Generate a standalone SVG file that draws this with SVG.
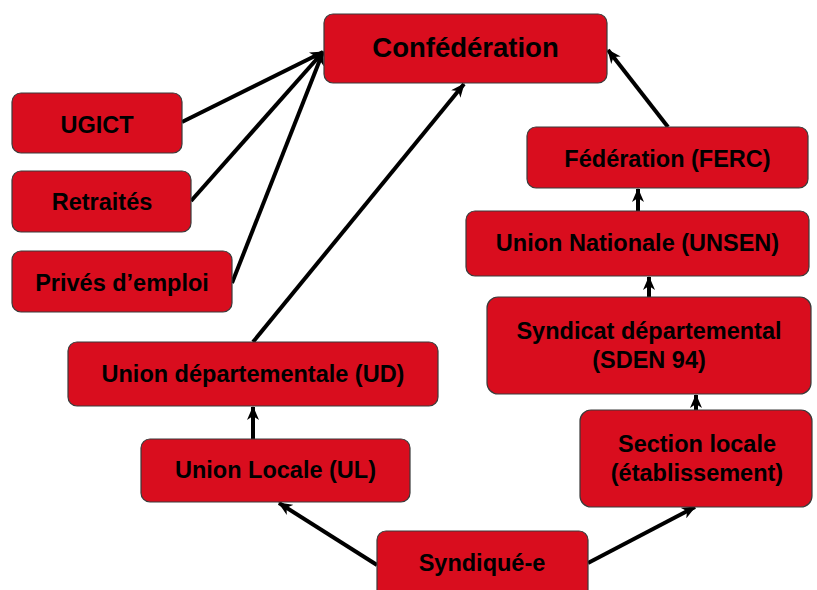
<svg xmlns="http://www.w3.org/2000/svg" width="817" height="590" viewBox="0 0 817 590">
<style>
.box{fill:#d90d1e;stroke:#3a3a3a;stroke-width:1.2}
.t{font-family:"Liberation Sans",Arial,sans-serif;font-weight:bold;font-size:23.5px;fill:#000;text-anchor:middle}
.big{font-size:27.5px}
.c{stroke:#000;stroke-width:4;fill:none;marker-end:url(#ah)}
</style>
<defs>
<marker id="ah" markerUnits="userSpaceOnUse" viewBox="0 0 14 12" refX="13" refY="6" markerWidth="14" markerHeight="12" orient="auto">
<path d="M0,0 L14,6 L0,12 L4,6 z" fill="#000"/>
</marker>
</defs>
<rect width="817" height="590" fill="#fff"/>
<g id="connectors">
<line class="c" x1="182" y1="122" x2="323" y2="52"/>
<line class="c" x1="191" y1="201" x2="323" y2="52"/>
<line class="c" x1="232" y1="283" x2="323" y2="52"/>
<line class="c" x1="253" y1="342" x2="464" y2="84"/>
<line class="c" x1="253" y1="439" x2="253" y2="407"/>
<line class="c" x1="377" y1="565" x2="279" y2="503"/>
<line class="c" x1="588" y1="563" x2="695" y2="507"/>
<line class="c" x1="696" y1="410" x2="696" y2="395"/>
<line class="c" x1="649" y1="297" x2="649" y2="277"/>
<line class="c" x1="638" y1="211" x2="638" y2="189"/>
<line class="c" x1="668" y1="127" x2="608" y2="50"/>
</g>
<g id="confederation">
<rect class="box" x="324" y="14" width="283" height="69" rx="9"/>
<text class="t big" x="465.5" y="57">Confédération</text>
</g>
<g id="ugict">
<rect class="box" x="12" y="93" width="170" height="60" rx="9"/>
<text class="t" x="97" y="133">UGICT</text>
</g>
<g id="retraites">
<rect class="box" x="12" y="171" width="179" height="61" rx="9"/>
<text class="t" x="102" y="210">Retraités</text>
</g>
<g id="prives">
<rect class="box" x="12" y="251" width="220" height="61" rx="9"/>
<text class="t" x="122" y="291">Privés d’emploi</text>
</g>
<g id="ud">
<rect class="box" x="68" y="342" width="370" height="64" rx="9"/>
<text class="t" x="253" y="382">Union départementale (UD)</text>
</g>
<g id="ul">
<rect class="box" x="141" y="439" width="269" height="63" rx="9"/>
<text class="t" x="275.5" y="478">Union Locale (UL)</text>
</g>
<g id="syndique">
<rect class="box" x="377" y="531" width="211" height="70" rx="9"/>
<text class="t" x="482" y="571">Syndiqué-e</text>
</g>
<g id="ferc">
<rect class="box" x="527" y="127" width="281" height="61" rx="9"/>
<text class="t" x="667.5" y="167">Fédération (FERC)</text>
</g>
<g id="unsen">
<rect class="box" x="466" y="211" width="343" height="65" rx="9"/>
<text class="t" x="637.5" y="251">Union Nationale (UNSEN)</text>
</g>
<g id="sden">
<rect class="box" x="487" y="297" width="324" height="97" rx="11"/>
<text class="t" x="649" y="339">Syndicat départemental</text>
<text class="t" x="649" y="368">(SDEN 94)</text>
</g>
<g id="section">
<rect class="box" x="580" y="410" width="232" height="97" rx="11"/>
<text class="t" x="697" y="452">Section locale</text>
<text class="t" x="697" y="481">(établissement)</text>
</g>
</svg>
